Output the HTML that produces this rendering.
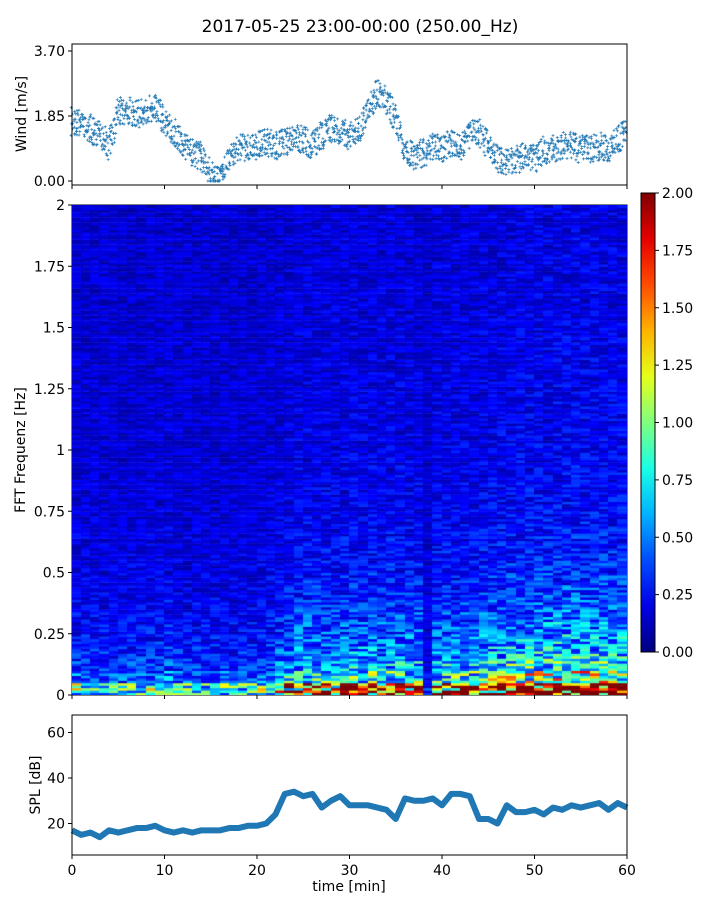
<!DOCTYPE html>
<html><head><meta charset="utf-8"><style>
body{margin:0;background:#fff;font-family:"DejaVu Sans","Liberation Sans",sans-serif;}
#wrap{position:relative;width:720px;height:900px;}
canvas{position:absolute;}
text{font-family:"DejaVu Sans","Liberation Sans",sans-serif;}
</style></head><body>
<div id="wrap">
<svg id="svg" width="720" height="900" style="position:absolute;left:0;top:0"></svg>
<canvas id="spec" width="555" height="490" style="left:72px;top:205px"></canvas>
</div>
<script>
// ---------- data ----------
const windMinutes=[0,1,2,3,4,5,6,7,8,9,10,11,12,13,14,15,16,17,18,19,20,21,22,23,24,25,26,27,28,29,30,31,32,33,34,35,36,37,38,39,40,41,42,43,44,45,46,47,48,49,50,51,52,53,54,55,56,57,58,59,60];
const windValues=[1.7,1.6,1.5,1.3,1.0,2.0,2.0,1.9,2.0,2.1,1.7,1.4,1.0,0.8,0.7,0.2,0.1,0.6,0.9,1.0,1.0,1.1,1.0,1.1,1.2,1.2,1.0,1.3,1.5,1.4,1.3,1.5,2.0,2.5,2.3,1.8,0.8,0.7,0.8,1.0,0.9,1.1,1.0,1.3,1.4,1.0,0.6,0.5,0.6,0.7,0.6,0.9,0.9,1.0,1.0,0.9,0.9,1.0,0.9,1.2,1.4];
const splValues=[17,15,16,14,17,16,17,18,18,19,17,16,17,16,17,17,17,18,18,19,19,20,24,33,34,32,33,27,30,32,28,28,28,27,26,22,31,30,30,31,28,33,33,32,22,22,20,28,25,25,26,24,27,26,28,27,28,29,26,29,27];
const specEnergy=[0.35,0.3,0.3,0.3,0.28,0.3,0.3,0.3,0.35,0.35,0.4,0.3,0.3,0.3,0.3,0.3,0.3,0.3,0.3,0.3,0.35,0.4,0.5,0.6,0.7,0.75,0.7,0.7,0.65,0.7,0.75,0.7,0.75,0.7,0.8,0.75,0.7,0.75,0.1,0.7,0.75,0.7,0.75,0.7,0.8,0.85,0.9,0.95,0.95,1.0,1.0,1.0,1.05,1.05,1.1,1.05,1.0,1.05,1.0,1.0];
const freqFactor=[4.2,1.8,1.25,1.0,0.85,0.72,0.62,0.52,0.45,0.4,0.35,0.31,0.28,0.25,0.23,0.21,0.2,0.19,0.18,0.17,0.16,0.16,0.15,0.15,0.14,0.14,0.14,0.13,0.13,0.13,0.12,0.12,0.12,0.12,0.11,0.11,0.11,0.11,0.1,0.1];
const windTicks=[0,1.85,3.7], splTicks=[20,40,60], specTicks=[0,0.25,0.5,0.75,1,1.25,1.5,1.75,2], timeTicks=[0,10,20,30,40,50,60], cbTicks=[0,0.25,0.5,0.75,1,1.25,1.5,1.75,2];
// ---------- helpers ----------
const svg=document.getElementById('svg');const NS='http://www.w3.org/2000/svg';
function el(t,a,p){const e=document.createElementNS(NS,t);for(const k in a)e.setAttribute(k,a[k]);(p||svg).appendChild(e);return e;}
function txt(x,y,s,anchor,size,extra){const t=el('text',Object.assign({x:x,y:y,'text-anchor':anchor,'font-size':size,fill:'#000'},extra||{}));t.textContent=s;return t;}
const X=m=>72+m*555/60;
const yW=v=>181-v*65/1.85;
const yS=v=>869-v*45.5/20;
const yF=f=>695-f*245;
const yC=v=>652-v*229.5;
function jet(v){v=Math.max(0,Math.min(1,v));const r=Math.max(0,Math.min(1,1.5-Math.abs(4*v-3))),g=Math.max(0,Math.min(1,1.5-Math.abs(4*v-2))),b=Math.max(0,Math.min(1,1.5-Math.abs(4*v-1)));return `rgb(${r*255|0},${g*255|0},${b*255|0})`;}
function hash(a,b){let h=(a*73856093)^(b*19349663);h=(h^(h>>>13))*1274126177;h=h^(h>>>16);return ((h>>>0)%1000)/1000;}
let t=txt(360,32,'2017-05-25 23:00-00:00 (250.00_Hz)','middle',17);
// ---------- wind panel ----------
let g=el('g',{});
for(let i=0;i<windValues.length-1;i++){const v0=windValues[i],v1=windValues[i+1];for(let k=0;k<10;k++){const f=k/10;const c=v0+(v1-v0)*f;for(let j=0;j<3;j++){const off=(hash(i*10+k,j)-0.5)*0.8;const y=yW(Math.max(0,c+off));if(y<45)continue;const x=X(windMinutes[i]+f)+(hash(j,i*10+k)-0.5)*2;el('path',{d:`M${x-1.5},${y}h3M${x},${y-1.5}v3`,stroke:'#1f77b4','stroke-width':0.7},g);}}}
let r=el('rect',{x:72,y:44,width:555,height:141,fill:'none',stroke:'#000','stroke-width':1});
windTicks.forEach(v=>{el('line',{x1:68,x2:72,y1:yW(v),y2:yW(v),stroke:'#000'});txt(65,yW(v)+5,v.toFixed(2),'end',14);});
timeTicks.forEach(m=>el('line',{x1:X(m),x2:X(m),y1:185,y2:189,stroke:'#000'}));
t=txt(26,114,'Wind [m/s]','middle',14,{transform:'rotate(-90 26 114)'});
// ---------- spectrogram ----------
const cv=document.getElementById('spec').getContext('2d');
const rowsPerFactor=5, nRows=freqFactor.length*rowsPerFactor, rowH=490/nRows;
for(let c=0;c<specEnergy.length;c++){for(let rr=0;rr<nRows;rr++){const ff=freqFactor[Math.floor(rr/rowsPerFactor)];const noise=hash(c,rr)-0.5;const v=0.14+specEnergy[c]*ff*0.5*(1+noise*1.3)+noise*0.16;cv.fillStyle=jet(v/2);cv.fillRect(Math.floor(c*555/60),490-(rr+1)*rowH,Math.ceil(555/60)+1,rowH+0.5);}}
r=el('rect',{x:72,y:205,width:555,height:490,fill:'none',stroke:'#000'});
specTicks.forEach(v=>{el('line',{x1:68,x2:72,y1:yF(v),y2:yF(v),stroke:'#000'});txt(65,yF(v)+5,String(v),'end',14);});
timeTicks.forEach(m=>el('line',{x1:X(m),x2:X(m),y1:695,y2:699,stroke:'#000'}));
t=txt(25,450,'FFT Frequenz [Hz]','middle',14,{transform:'rotate(-90 25 450)'});
// colorbar
const defs=el('defs',{});const lg=el('linearGradient',{id:'jetg',x1:0,y1:1,x2:0,y2:0},defs);
for(let i=0;i<=10;i++)el('stop',{offset:i/10,'stop-color':jet(i/10)},lg);
r=el('rect',{x:641,y:193,width:14,height:459,fill:'url(#jetg)',stroke:'#000'});
cbTicks.forEach(v=>{el('line',{x1:655,x2:659,y1:yC(v),y2:yC(v),stroke:'#000'});txt(662,yC(v)+5,v.toFixed(2),'start',14);});
// ---------- SPL panel ----------
let pts=splValues.map((v,i)=>`${X(i)},${yS(v)}`).join(' ');
let pl=el('polyline',{points:pts,fill:'none',stroke:'#1f77b4','stroke-width':6,'stroke-linejoin':'round'});
r=el('rect',{x:72,y:715,width:555,height:140,fill:'none',stroke:'#000'});
splTicks.forEach(v=>{el('line',{x1:68,x2:72,y1:yS(v),y2:yS(v),stroke:'#000'});txt(65,yS(v)+5,String(v),'end',14);});
timeTicks.forEach(m=>{el('line',{x1:X(m),x2:X(m),y1:855,y2:859,stroke:'#000'});txt(X(m),875,String(m),'middle',14);});
t=txt(40,785,'SPL [dB]','middle',14,{transform:'rotate(-90 40 785)'});
t=txt(349,891,'time [min]','middle',14);
</script>
</body></html>
